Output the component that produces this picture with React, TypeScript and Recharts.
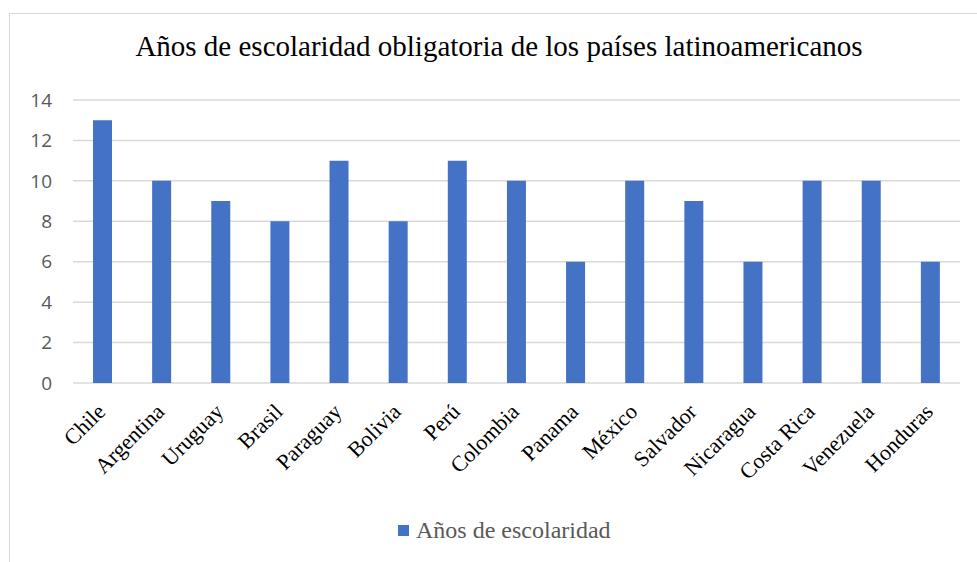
import { BarChart, Bar, XAxis, YAxis, CartesianGrid } from 'recharts'

const paises = [
  'Chile',
  'Argentina',
  'Uruguay',
  'Brasil',
  'Paraguay',
  'Bolivia',
  'Perú',
  'Colombia',
  'Panama',
  'México',
  'Salvador',
  'Nicaragua',
  'Costa Rica',
  'Venezuela',
  'Honduras',
]

const anos = [13, 10, 9, 8, 11, 8, 11, 10, 6, 10, 9, 6, 10, 10, 6]

const yTicks = [0, 2, 4, 6, 8, 10, 12, 14]

const SERIE = 'Años de escolaridad'
const TITULO = 'Años de escolaridad obligatoria de los países latinoamericanos'

const SERIF = "'Liberation Serif', 'Times New Roman', serif"

const data = paises.map((p, i) => ({ pais: p, valor: anos[i] }))

function PaisTick(props: any) {
  const { x, y, payload } = props
  return (
    <g transform={`translate(${x + 4},${y + 22})`}>
      <text
        transform="rotate(-45)"
        textAnchor="end"
        fontFamily={SERIF}
        fontSize={22}
        fill="#000"
      >
        {payload.value}
      </text>
    </g>
  )
}

export default function App() {
  return (
    <div
      style={{
        position: 'absolute',
        left: 0,
        top: 0,
        width: 977,
        height: 562,
        background: '#fff',
        overflow: 'hidden',
      }}
    >
      <div
        style={{
          position: 'absolute',
          left: 9,
          top: 13,
          width: 1000,
          height: 600,
          border: '1px solid #d9d9d9',
        }}
      />
      <div
        style={{
          position: 'absolute',
          left: 0,
          top: 30,
          width: 998,
          textAlign: 'center',
          fontFamily: SERIF,
          fontSize: 29,
          color: '#000',
          whiteSpace: 'nowrap',
        }}
      >
        {TITULO}
      </div>
      <div style={{ position: 'absolute', left: 0, top: 0 }}>
        <BarChart
          width={977}
          height={562}
          data={data}
          margin={{ top: 100, right: 17, bottom: 119, left: 0 }}
        >
          <CartesianGrid vertical={false} stroke="#d9d9d9" strokeWidth={1.5} />
          <XAxis
            dataKey="pais"
            axisLine={false}
            tickLine={false}
            interval={0}
            tick={<PaisTick />}
            height={60}
          />
          <YAxis
            width={73}
            domain={[0, 14]}
            ticks={yTicks}
            axisLine={false}
            tickLine={false}
            tickSize={0}
            tickMargin={21}
            tick={{
              fill: '#595959',
              fontSize: 19,
              fontFamily: "'Open Sans', 'Liberation Sans', sans-serif",
            }}
          />
          <Bar
            dataKey="valor"
            name={SERIE}
            fill="#4472C4"
            barSize={19}
            isAnimationActive={false}
          />
        </BarChart>
      </div>
      <div
        style={{
          position: 'absolute',
          left: 398,
          top: 517,
          display: 'flex',
          alignItems: 'center',
          whiteSpace: 'nowrap',
        }}
      >
        <span
          style={{
            display: 'inline-block',
            width: 11,
            height: 11,
            background: '#4472C4',
            marginRight: 7,
          }}
        />
        <span style={{ fontFamily: SERIF, fontSize: 24, color: '#595959' }}>{SERIE}</span>
      </div>
    </div>
  )
}
